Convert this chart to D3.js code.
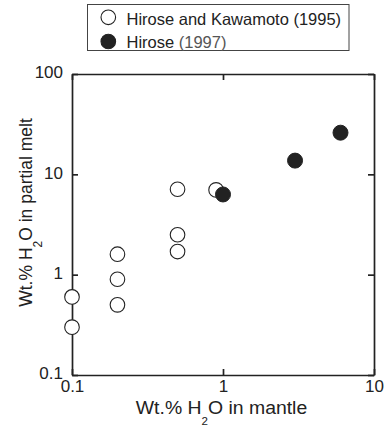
<!DOCTYPE html>
<html>
<head>
<meta charset="utf-8">
<script src="https://cdn.jsdelivr.net/npm/d3@7"></script>
<style>
  html, body { margin: 0; padding: 0; background: #fff; }
  svg { display: block; font-family: "Liberation Sans", Arial, Helvetica, sans-serif; }
</style>
</head>
<body>
<svg id="chart" width="389" height="426"></svg>
<script>
// Water content: bulk mantle vs. partial melt (wt.%)
const kawamotoMantle = [0.1, 0.1, 0.2, 0.2, 0.2, 0.5, 0.5, 0.5, 0.9];
const kawamotoMelt   = [0.6, 0.3, 1.6, 0.9, 0.5, 7.1, 2.5, 1.7, 7.0];
const hiroseMantle   = [1.0, 3.0, 6.0];
const hiroseMelt     = [6.3, 13.7, 26];
const xTicks = [0.1, 1, 10];
const yTicks = [0.1, 1, 10, 100];
const seriesNames = ["Hirose and Kawamoto ", "Hirose "];
const seriesYears = ["(1995)", "(1997)"];

const svg = d3.select("#chart");
const ink = "#222";
const m = { left: 72, right: 374, top: 74, bottom: 375 };

const x = d3.scaleLog().domain([0.1, 10]).range([m.left, m.right]);
const y = d3.scaleLog().domain([0.1, 100]).range([m.bottom, m.top]);
const fmt = d => (d < 1 ? d3.format(".1f")(d) : d3.format("d")(d));

// bottom axis with labels, ticks pointing inward
const gx = svg.append("g")
  .attr("transform", `translate(0,${m.bottom})`)
  .call(d3.axisBottom(x).tickValues(xTicks).tickFormat(fmt)
    .tickSizeInner(-6).tickSizeOuter(0).tickPadding(5));
// left axis with labels
const gy = svg.append("g")
  .attr("transform", `translate(${m.left},0)`)
  .call(d3.axisLeft(y).tickValues(yTicks).tickFormat(fmt)
    .tickSizeInner(-6).tickSizeOuter(0).tickPadding(9));
// mirrored top and right axes, ticks only
const gt = svg.append("g")
  .attr("transform", `translate(0,${m.top})`)
  .call(d3.axisTop(x).tickValues(xTicks).tickFormat("")
    .tickSizeInner(-6).tickSizeOuter(0));
const gr = svg.append("g")
  .attr("transform", `translate(${m.right},0)`)
  .call(d3.axisRight(y).tickValues(yTicks).tickFormat("")
    .tickSizeInner(-6).tickSizeOuter(0));

[gx, gy, gt, gr].forEach(g => {
  g.select(".domain").attr("stroke", ink).attr("stroke-width", 1.7);
  g.selectAll(".tick line").attr("stroke", ink).attr("stroke-width", 1.7);
  g.selectAll(".tick text")
    .attr("fill", ink)
    .style("font-size", "17px")
    .style("font-family", "'Liberation Sans', Arial, Helvetica, sans-serif");
});
gy.selectAll(".tick text").attr("dy", "0.22em");

// data points
svg.append("g").selectAll("circle")
  .data(kawamotoMantle.map((v, i) => [v, kawamotoMelt[i]]))
  .join("circle")
  .attr("cx", d => x(d[0])).attr("cy", d => y(d[1])).attr("r", 7.3)
  .attr("fill", "#fff").attr("stroke", ink).attr("stroke-width", 1.1);

svg.append("g").selectAll("circle")
  .data(hiroseMantle.map((v, i) => [v, hiroseMelt[i]]))
  .join("circle")
  .attr("cx", d => x(d[0])).attr("cy", d => y(d[1])).attr("r", 7.5)
  .attr("fill", ink).attr("stroke", ink).attr("stroke-width", 1);

// axis titles
const xt = svg.append("text")
  .attr("transform", "translate(221.5,414) scale(1.05,1)")
  .attr("text-anchor", "middle").attr("fill", ink)
  .style("font-size", "18.5px");
xt.append("tspan").text("Wt.% H");
xt.append("tspan").attr("dy", 11).style("font-size", "11px").text("2");
xt.append("tspan").attr("dy", -11).text("O in mantle");

const yt = svg.append("text")
  .attr("transform", "translate(32,212.5) rotate(-90)")
  .attr("text-anchor", "middle").attr("fill", ink)
  .style("font-size", "17.5px");
yt.append("tspan").text("Wt.% H");
yt.append("tspan").attr("dy", 10).style("font-size", "12px").text("2");
yt.append("tspan").attr("dy", -10).text("O in partial melt");

// legend
const lg = svg.append("g");
lg.append("rect")
  .attr("x", 87.5).attr("y", 4.5).attr("width", 261.5).attr("height", 46)
  .attr("fill", "#fff").attr("stroke", "#444").attr("stroke-width", 1);
const rows = [
  { cy: 17.3, base: 25, fill: "#fff" },
  { cy: 41.5, base: 47.5, fill: ink }
];
rows.forEach((r, i) => {
  lg.append("circle")
    .attr("cx", 108.3).attr("cy", r.cy).attr("r", 7.3)
    .attr("fill", r.fill).attr("stroke", ink).attr("stroke-width", 1.1);
  const t = lg.append("text")
    .attr("x", 126.5).attr("y", r.base)
    .attr("fill", ink).style("font-size", "16.5px");
  t.append("tspan").text(seriesNames[i]);
  t.append("tspan").attr("fill", i === 1 ? "#555" : ink).text(seriesYears[i]);
});
</script>
</body>
</html>
